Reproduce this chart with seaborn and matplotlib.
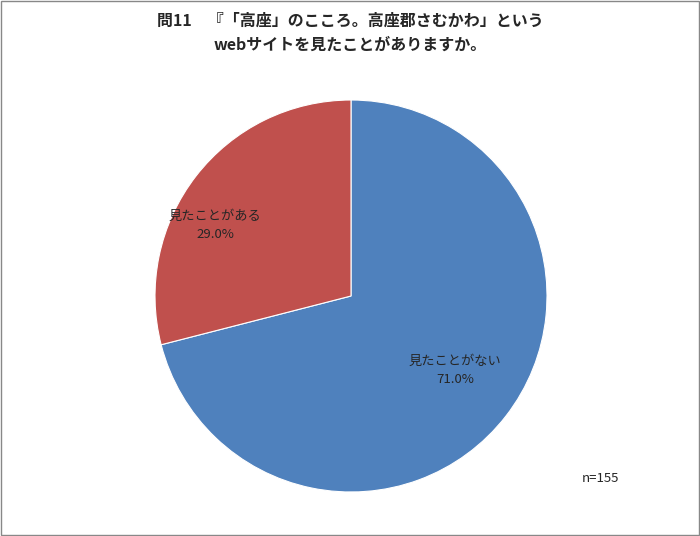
import matplotlib
matplotlib.use("Agg")
import matplotlib.pyplot as plt
import seaborn as sns
import numpy as np

categories = ["見たことがない", "見たことがある"]
values = [71.0, 29.0]
colors = ["#4F81BD", "#C0504D"]
title = "問11　『「高座」のこころ。高座郡さむかわ」という\nwebサイトを見たことがありますか。"
note = "n=155"

sns.set_theme(style="white", font="Noto Sans CJK JP")
fig = plt.figure(figsize=(7, 5.36), dpi=100)
fig.patch.set_facecolor("white")
fig.patches.append(plt.Rectangle((0.001, 0.001), 0.997, 0.997, transform=fig.transFigure,
                                 fill=False, edgecolor="#888888", linewidth=1))
ax = fig.add_axes([155/700, 44/536, 392/700, 392/536])
wedges, _ = ax.pie(values, colors=colors, startangle=90, counterclock=False,
                   wedgeprops=dict(edgecolor="white", linewidth=0.8))
ax.set_xlim(-1, 1); ax.set_ylim(-1, 1); ax.set_aspect("auto"); ax.axis("off")

pos = [(0.531, -0.378), (-0.694, 0.362)]
for (x, y), c, v in zip(pos, categories, values):
    ax.text(x, y, f"{c}\n{v:.1f}%", ha="center", va="center", fontsize=9.5, linespacing=1.5)

fig.text(0.5, 1 - 33/536, title, ha="center", va="center", fontsize=11.5,
         fontweight="bold", linespacing=1.6)
fig.text(600/700, 1 - 478/536, note, ha="center", va="center", fontsize=9.5)
fig.savefig("out.png", dpi=100)
